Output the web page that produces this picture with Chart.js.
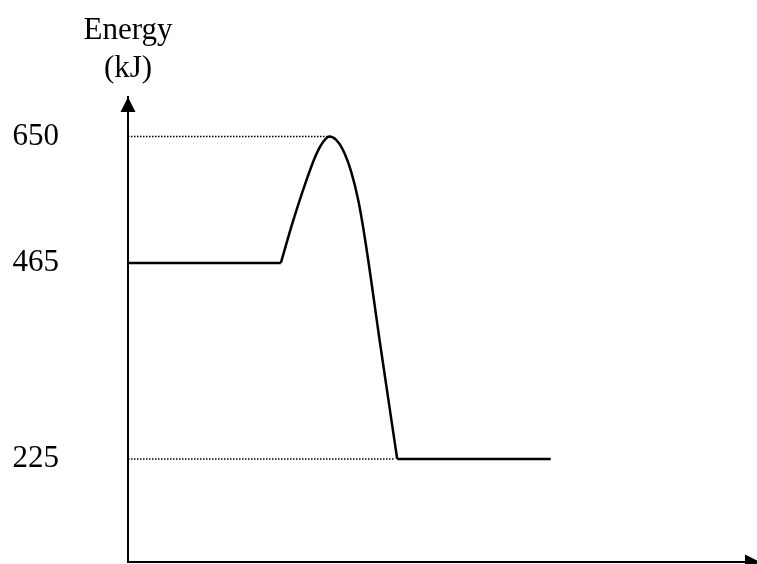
<!DOCTYPE html>
<html>
<head>
<meta charset="utf-8">
<script src="https://cdn.jsdelivr.net/npm/chart.js@4.4.1/dist/chart.umd.min.js"></script>
<style>
    html, body { margin: 0; padding: 0; background: #fff; overflow: hidden; }
    #wrap { width: 757px; height: 564px; position: relative; }
</style>
</head>
<body>
<div id="wrap"><canvas id="myChart"></canvas></div>
<script>
// y axis labels and title
var energyTicks = [650, 465, 225]
var yTitle = ["Energy", "(kJ)"]

// reactants level
var reactantX = [0, 24.3]
var reactantE = [465, 465]

// the hump (activation) and drop to products
var humpX = [24.3, 26.2, 28.1, 29.7, 30.8, 32.0, 33.1, 34.2, 35.5, 36.6, 37.7, 40.2, 42.8]
var humpE = [465, 525, 579, 619, 639, 650, 645, 630, 598, 557, 499, 360, 225]

// products level
var productX = [42.8, 67.2]
var productE = [225, 225]

// dotted guide lines back to the axis
var peakGuideX = [0, 32.4]
var peakGuideE = [650, 650]
var productGuideX = [0, 42.4]
var productGuideE = [225, 225]

// the drawing isn't to scale, so the y axis is stretched piecewise
var axisValues = [0, 225, 465, 650, 700]
var axisFracs = [0, 0.2215, 0.643, 0.915, 1]

function toPoints(xs, ys) {
    return xs.map(function(x, i) { return { x: x, y: ys[i] } })
}

function interp(v, from, to) {
    if (v <= from[0]) return to[0]
    for (var i = 1; i < from.length; i++) {
        if (v <= from[i]) {
            var t = (v - from[i - 1]) / (from[i] - from[i - 1])
            return to[i - 1] + t * (to[i] - to[i - 1])
        }
    }
    return to[to.length - 1]
}

class SketchScale extends Chart.LinearScale {
    getPixelForValue(value) {
        return this.getPixelForDecimal(interp(value, axisValues, axisFracs))
    }
    getValueForPixel(pixel) {
        return interp(this.getDecimalForPixel(pixel), axisFracs, axisValues)
    }
}
SketchScale.id = "sketch"
SketchScale.defaults = Chart.LinearScale.defaults
Chart.register(SketchScale)

var serif = "'Liberation Serif', 'Times New Roman', serif"

var arrowPlugin = {
    id: "arrows",
    afterDraw: function(chart) {
        var ctx = chart.ctx
        var a = chart.chartArea
        ctx.save()
        ctx.fillStyle = "#000"
        // y arrow head
        ctx.beginPath()
        ctx.moveTo(a.left, a.top)
        ctx.lineTo(a.left - 7.5, a.top + 15)
        ctx.lineTo(a.left + 7.5, a.top + 15)
        ctx.closePath()
        ctx.fill()
        // x arrow head
        ctx.beginPath()
        ctx.moveTo(a.right + 3, a.bottom)
        ctx.lineTo(a.right - 12, a.bottom - 7.5)
        ctx.lineTo(a.right - 12, a.bottom + 7.5)
        ctx.closePath()
        ctx.fill()
        // axis title
        ctx.font = "31px " + serif
        ctx.textAlign = "center"
        ctx.textBaseline = "alphabetic"
        ctx.fillText(yTitle[0], a.left, 39)
        ctx.fillText(yTitle[1], a.left, 77)
        ctx.restore()
    }
}

var solid = { borderColor: "#000", borderWidth: 2.5, pointRadius: 0, fill: false }
var dotted = { borderColor: "#000", borderWidth: 1.5, borderDash: [1.5, 1.5], pointRadius: 0, fill: false }

var myChart = document.getElementById("myChart").getContext("2d")

var chart = new Chart(myChart, {
    type: "line",
    data: {
        datasets: [
            Object.assign({ data: toPoints(peakGuideX, peakGuideE) }, dotted),
            Object.assign({ data: toPoints(productGuideX, productGuideE) }, dotted),
            Object.assign({ data: toPoints(reactantX, reactantE) }, solid),
            Object.assign({ data: toPoints(humpX, humpE), cubicInterpolationMode: "monotone" }, solid),
            Object.assign({ data: toPoints(productX, productE) }, solid)
        ]
    },
    options: {
        responsive: true,
        maintainAspectRatio: false,
        animation: false,
        layout: { padding: { top: 97, bottom: 2, left: 0, right: 0 } },
        plugins: {
            legend: { display: false },
            tooltip: { enabled: false }
        },
        scales: {
            x: {
                type: "linear",
                min: 0,
                max: 100,
                grid: { display: false, drawTicks: false },
                ticks: { display: false },
                border: { display: true, color: "#000", width: 2 },
                afterFit: function(s) {
                    s.height = 0
                    s.paddingLeft = 0
                    s.paddingRight = 0
                }
            },
            y: {
                type: "sketch",
                min: 0,
                max: 700,
                grid: { display: false, drawTicks: false },
                border: { display: true, color: "#000", width: 2 },
                ticks: {
                    padding: 69,
                    color: "#000",
                    font: { family: serif, size: 31 }
                },
                afterBuildTicks: function(s) {
                    s.ticks = energyTicks.map(function(v) { return { value: v } })
                },
                afterFit: function(s) {
                    s.width = 128
                    s.paddingTop = 0
                    s.paddingBottom = 0
                }
            }
        }
    },
    plugins: [arrowPlugin]
})
</script>
</body>
</html>
